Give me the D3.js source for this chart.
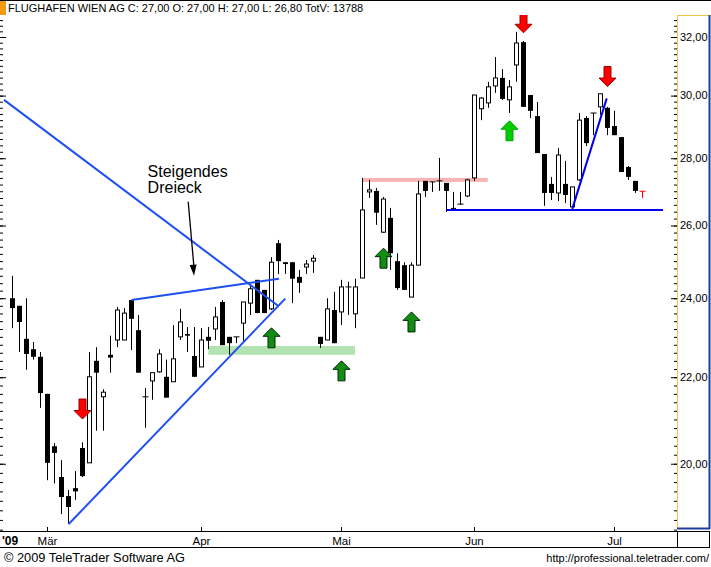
<!DOCTYPE html>
<html><head><meta charset="utf-8">
<script src="https://cdn.jsdelivr.net/npm/d3@7"></script>
<style>
html,body{margin:0;padding:0;background:#fff;}
svg{display:block;font-family:"Liberation Sans",Arial,sans-serif;}
</style>
</head><body>
<svg id="chart" width="711" height="567"></svg>
<script>
// ---------- DATA ----------
const title = "FLUGHAFEN WIEN AG C: 27,00 O: 27,00 H: 27,00 L: 26,80 TotV: 13788";
const dates = [
 "2009-02-23","2009-02-24","2009-02-25","2009-02-26","2009-02-27",
 "2009-03-02","2009-03-03","2009-03-04","2009-03-05","2009-03-06","2009-03-09","2009-03-10","2009-03-11","2009-03-12","2009-03-13",
 "2009-03-16","2009-03-17","2009-03-18","2009-03-19","2009-03-20","2009-03-23","2009-03-24","2009-03-25","2009-03-26","2009-03-27","2009-03-30","2009-03-31",
 "2009-04-01","2009-04-02","2009-04-03","2009-04-06","2009-04-07","2009-04-08","2009-04-09","2009-04-14","2009-04-15","2009-04-16","2009-04-17",
 "2009-04-20","2009-04-21","2009-04-22","2009-04-23","2009-04-24","2009-04-27","2009-04-28","2009-04-29","2009-04-30",
 "2009-05-04","2009-05-05","2009-05-06","2009-05-07","2009-05-08","2009-05-11","2009-05-12","2009-05-13","2009-05-14","2009-05-15",
 "2009-05-18","2009-05-19","2009-05-20","2009-05-22","2009-05-25","2009-05-26","2009-05-27","2009-05-28","2009-05-29",
 "2009-06-02","2009-06-03","2009-06-04","2009-06-05","2009-06-08","2009-06-09","2009-06-10","2009-06-12","2009-06-15","2009-06-16",
 "2009-06-17","2009-06-18","2009-06-19","2009-06-22","2009-06-23","2009-06-24","2009-06-25","2009-06-26","2009-06-29","2009-06-30",
 "2009-07-01","2009-07-02","2009-07-03","2009-07-06","2009-07-07"
];
const opens = [
 24.00,23.80,22.95,22.69,22.50, 21.60,20.39,19.71,19.30,19.47,20.35,20.02,22.40,21.53,22.55,
 22.92,22.92,23.95,23.17,21.53,21.91,22.13,22.01,21.89,23.00,23.07,22.52,
 22.25,23.00,23.20,23.90,23.00,23.00,23.35,23.87,24.49,24.22,23.72,
 25.50,24.97,24.97,24.57,24.84,25.00,23.00,22.92,23.69,
 23.64,24.30,23.59,24.54,26.98,27.01,25.81,26.22,25.00,24.89,
 24.03,24.89,27.31,27.28,27.31,27.25,26.51,26.62,26.86,
 27.40,29.57,29.76,30.32,30.59,29.86,31.03,31.82,30.02,29.33,
 28.13,27.22,26.95,27.22,26.54,27.34,29.27,29.43,29.63,29.60,
 29.01,28.66,27.73,27.31,27.00
];
const highs = [
 24.60,23.80,24.00,22.87,22.62, 21.60,20.46,20.08,19.43,19.84,20.48,22.62,22.74,21.71,23.03,
 23.77,23.74,23.95,23.56,21.74,22.11,22.69,22.43,23.30,23.72,23.25,23.25,
 23.22,23.25,23.77,23.95,23.00,23.00,23.90,24.35,24.49,24.22,25.11,
 25.59,24.97,24.97,24.76,25.03,25.17,23.00,24.00,24.17,
 24.49,24.44,24.52,27.40,27.34,27.10,26.83,26.51,25.22,24.97,
 24.97,27.31,27.31,27.28,28.01,27.25,26.98,26.98,27.37,
 30.02,29.95,30.46,31.30,30.89,30.52,32.18,31.86,30.02,29.79,
 28.13,27.43,28.32,27.92,27.13,29.43,29.33,29.43,30.06,29.63,
 29.50,28.66,27.76,27.31,27.00
];
const lows = [
 23.22,22.62,22.18,22.43,21.27, 19.64,19.57,18.92,18.73,19.22,19.71,20.02,20.74,20.74,22.11,
 22.74,22.92,22.67,22.11,20.81,21.46,22.11,21.51,21.89,22.92,22.62,22.01,
 22.25,22.69,22.92,22.79,22.55,22.84,22.84,23.56,23.61,23.61,23.69,
 24.65,24.65,23.87,24.14,24.65,24.68,22.72,22.92,22.84,
 23.30,23.56,23.22,24.54,26.80,26.02,25.79,24.76,24.22,24.22,
 24.03,24.89,26.83,26.98,27.01,26.39,26.48,26.60,26.83,
 27.31,29.20,29.60,30.09,29.86,29.43,30.46,29.63,29.27,28.16,
 26.57,26.74,26.71,26.65,26.51,27.31,28.38,28.72,29.37,28.72,
 28.72,27.58,27.34,26.95,26.80
];
const closes = [
 23.74,23.38,22.57,22.50,21.62, 20.02,20.24,19.28,19.07,19.40,19.73,22.01,22.11,21.64,22.48,
 23.69,23.61,23.46,22.11,21.53,22.11,22.57,21.51,22.45,23.38,23.03,22.01,
 22.92,22.90,23.51,22.79,22.84,23.00,23.90,24.25,23.61,23.61,24.97,
 25.00,24.92,24.52,24.41,24.92,25.08,22.82,23.72,22.84,
 24.30,24.30,24.30,26.45,27.04,26.37,26.77,25.22,24.27,24.22,
 24.89,26.92,27.01,27.28,27.31,27.01,26.48,26.62,27.34,
 30.02,29.92,30.29,30.59,29.89,30.29,31.79,29.63,29.50,28.16,
 26.95,26.95,28.10,26.89,27.13,29.20,28.47,29.43,30.06,28.95,
 28.72,27.58,27.43,27.01,27.00
];
const priceTicks = [20, 22, 24, 26, 28, 30, 32];
const priceDomain = [32.785, 18.572];
const monthStarts = ["2009-03-02","2009-04-01","2009-05-04","2009-06-02","2009-07-01"];
const monthLabels = ["Mär","Apr","Mai","Jun","Jul"];
const yearLabel = "'09";
const footerLeft = "© 2009 TeleTrader Software AG";
const footerRight = "http://professional.teletrader.com/";

// annotations (x in trading-day index, y in price)
const trendLines = [
 {i1:-1.21, p1:29.86, i2:37.94, p2:23.80, kind:"tri"},
 {i1:17.0,  p1:23.95, i2:38.07, p2:24.52, kind:"tri"},
 {i1:8.0,   p1:18.71, i2:38.97, p2:23.99, kind:"tri"},
 {i1:79.97, p1:26.48, i2:84.89, p2:29.91, kind:"main"},
 {i1:61.97, p1:26.45, i2:92.93, p2:26.45, kind:"main"}
];
const zones = [
 {i1:49.97, i2:67.89, pTop:27.40, pBot:27.28, kind:"resist"},
 {i1:27.97, i2:48.93, pTop:22.77, pBot:22.55, kind:"support"}
];
const signals = [
 {i:10, p:21.01, dir:"down", kind:"red"},
 {i:37, p:23.23, dir:"up", kind:"green"},
 {i:47, p:22.40, dir:"up", kind:"green"},
 {i:53, p:25.36, dir:"up", kind:"green"},
 {i:57, p:23.64, dir:"up", kind:"green"},
 {i:71, p:29.18, dir:"up", kind:"lime"},
 {i:73, p:32.15, dir:"down", kind:"red"},
 {i:85, p:30.30, dir:"down", kind:"red"}
];
const noteLines = ["Steigendes", "Dreieck"];
const note = {i:19.3, p:27.44};
const notePointer = {i1:25.1, p1:26.69, i2:25.93, p2:24.60};

// ---------- DRAW ----------
const W = 711, H = 567;
const plot = {left:0, right:677, top:15, bottom:531};
const svg = d3.select("#chart");

const x = d3.scaleBand().domain(dates).range([9, 646]).padding(0);
const xc = d => x(d) + x.bandwidth()/2;
const xi = d3.scaleLinear().domain([0, dates.length-1]).range([xc(dates[0]), xc(dates[dates.length-1])]);
const y = d3.scaleLog().domain(priceDomain).range([plot.top, plot.bottom]);

svg.append("defs").append("clipPath").attr("id","clip")
  .append("rect").attr("x",plot.left).attr("y",plot.top)
  .attr("width",plot.right-plot.left).attr("height",plot.bottom-plot.top);

// top line + title
svg.append("line").attr("x1",0).attr("x2",W).attr("y1",0.5).attr("y2",0.5).attr("stroke","#000");
svg.append("rect").attr("x",0).attr("y",1).attr("width",6).attr("height",14).attr("fill","#f39c12");
svg.append("text").attr("x",8).attr("y",12).attr("font-size",11).attr("fill","#000").text(title);

// right price panel
const panel = svg.append("g");
panel.append("line").attr("x1",677.5).attr("x2",677.5).attr("y1",15).attr("y2",528).attr("stroke","#efc344");
panel.append("line").attr("x1",677).attr("x2",709).attr("y1",15.5).attr("y2",15.5).attr("stroke","#efc344");
panel.append("line").attr("x1",709.5).attr("x2",709.5).attr("y1",15).attr("y2",529).attr("stroke","#1d3c9e").attr("stroke-width",2);
panel.append("line").attr("x1",677).attr("x2",710).attr("y1",528.5).attr("y2",528.5).attr("stroke","#1d3c9e").attr("stroke-width",2);

// axes (ticks)
const minorTicks = d3.range(93, 164).map(k => k/5);
function tickAxis(axisFn, tx, vals, size){
  const g = svg.append("g").attr("transform",`translate(${tx},0)`)
    .call(axisFn(y).tickValues(vals).tickSize(size).tickFormat(""));
  g.select(".domain").remove();
  g.selectAll(".tick line").attr("stroke","#000");
  return g;
}
tickAxis(d3.axisLeft, 677, minorTicks, 3);
tickAxis(d3.axisLeft, 677, priceTicks, 6);
tickAxis(d3.axisRight, 0, minorTicks, 3);
tickAxis(d3.axisRight, 0, priceTicks, 6);
svg.append("g").selectAll("text").data(priceTicks).join("text")
  .attr("x",680).attr("y",d=>y(d)).attr("dy","0.35em")
  .attr("font-size",11).attr("fill","#000")
  .text(d=>d.toFixed(2).replace(".",","));

// x-axis strip
svg.append("line").attr("x1",0).attr("x2",710).attr("y1",531.5).attr("y2",531.5).attr("stroke","#000");
svg.append("line").attr("x1",0).attr("x2",710).attr("y1",547.5).attr("y2",547.5).attr("stroke","#000");
svg.append("line").attr("x1",677.5).attr("x2",677.5).attr("y1",531).attr("y2",548).attr("stroke","#000");
svg.append("line").attr("x1",709.5).attr("x2",709.5).attr("y1",531).attr("y2",548).attr("stroke","#000");
svg.append("g").selectAll("line").data(monthStarts).join("line")
  .attr("x1",d=>xc(d)).attr("x2",d=>xc(d)).attr("y1",527).attr("y2",531).attr("stroke","#000");
svg.append("g").selectAll("text").data(monthStarts).join("text")
  .attr("x",d=>xc(d)).attr("y",545).attr("text-anchor","middle").attr("font-size",11.5)
  .text((d,i)=>monthLabels[i]);
svg.append("text").attr("x",2).attr("y",545).attr("font-size",12).attr("font-weight","bold").text(yearLabel);

// footer
svg.append("text").attr("x",4).attr("y",562).attr("font-size",12)
  .attr("textLength",181).attr("lengthAdjust","spacingAndGlyphs").text(footerLeft);
svg.append("text").attr("x",709).attr("y",562).attr("font-size",11)
  .attr("text-anchor","end").text(footerRight);

// plot contents
const pg = svg.append("g").attr("clip-path","url(#clip)");

// zones
const zoneColor = {resist:"#f7b4b4", support:"#b3e3b3"};
pg.append("g").selectAll("rect").data(zones).join("rect")
  .attr("x",d=>xi(d.i1)).attr("width",d=>xi(d.i2)-xi(d.i1))
  .attr("y",d=>y(d.pTop)).attr("height",d=>y(d.pBot)-y(d.pTop))
  .attr("fill",d=>zoneColor[d.kind]);

// candles
const data = dates.map((d,i)=>({date:d,o:opens[i],h:highs[i],l:lows[i],c:closes[i],last:i===dates.length-1}));
const cg = pg.append("g");
data.forEach(d=>{
  const cx = xc(d.date);
  const col = d.last ? "#ff0000" : "#000";
  const yo = y(d.o), yc = y(d.c), yh = y(d.h), yl = y(d.l);
  cg.append("line").attr("x1",cx).attr("x2",cx).attr("y1",yh).attr("y2",yl).attr("stroke",col);
  if (Math.abs(yo-yc) < 1) {
    cg.append("line").attr("x1",cx-3).attr("x2",cx+3).attr("y1",yo).attr("y2",yo).attr("stroke",col);
  } else if (d.c > d.o) {
    cg.append("rect").attr("x",cx-2).attr("width",4).attr("y",yc).attr("height",yo-yc)
      .attr("fill","#fff").attr("stroke",col);
  } else {
    cg.append("rect").attr("x",cx-2.5).attr("width",5).attr("y",yo).attr("height",yc-yo).attr("fill",col);
  }
});

// trend lines
const lineColor = {tri:"#1e4ff2", main:"#0000f0"};
pg.append("g").selectAll("line").data(trendLines).join("line")
  .attr("x1",d=>xi(d.i1)).attr("y1",d=>y(d.p1)).attr("x2",d=>xi(d.i2)).attr("y2",d=>y(d.p2))
  .attr("stroke",d=>lineColor[d.kind]).attr("stroke-width",2);

// signal arrows
const arrowStyle = {
  red:{fill:"#ff0000",stroke:"#9a0000"},
  green:{fill:"#138c13",stroke:"#002800"},
  lime:{fill:"#00cc00",stroke:"#00a800"}
};
function arrowPath(cx, tip, dir){
  const s = dir==="down" ? -1 : 1;
  const pts = [[0,0],[8.5,8.5*s],[3.5,8.5*s],[3.5,20*s],[-3.5,20*s],[-3.5,8.5*s],[-8.5,8.5*s]];
  return "M"+pts.map(p=>[cx+p[0], tip+p[1]].join(",")).join("L")+"Z";
}
pg.append("g").selectAll("path").data(signals).join("path")
  .attr("d",d=>arrowPath(xi(d.i), y(d.p), d.dir))
  .attr("fill",d=>arrowStyle[d.kind].fill).attr("stroke",d=>arrowStyle[d.kind].stroke).attr("stroke-width",1);

// note text + pointer
const nt = pg.append("text").attr("x",xi(note.i)).attr("y",y(note.p)).attr("font-size",16).attr("fill","#000");
noteLines.forEach((t,k)=>nt.append("tspan").attr("x",xi(note.i)).attr("dy",k===0?0:16.6).text(t));
const px1 = xi(notePointer.i1), py1 = y(notePointer.p1), px2 = xi(notePointer.i2), py2 = y(notePointer.p2);
pg.append("line").attr("x1",px1).attr("y1",py1).attr("x2",px2).attr("y2",py2-8)
  .attr("stroke","#000").attr("stroke-width",1.3);
const ang = Math.atan2(py2-py1, px2-px1);
const hl = 11, hw = 3.5;
const bx = px2 - hl*Math.cos(ang), by = py2 - hl*Math.sin(ang);
pg.append("path")
  .attr("d",`M${px2},${py2}L${bx - hw*Math.sin(ang)},${by + hw*Math.cos(ang)}L${bx + hw*Math.sin(ang)},${by - hw*Math.cos(ang)}Z`)
  .attr("fill","#000");
</script>
</body></html>
